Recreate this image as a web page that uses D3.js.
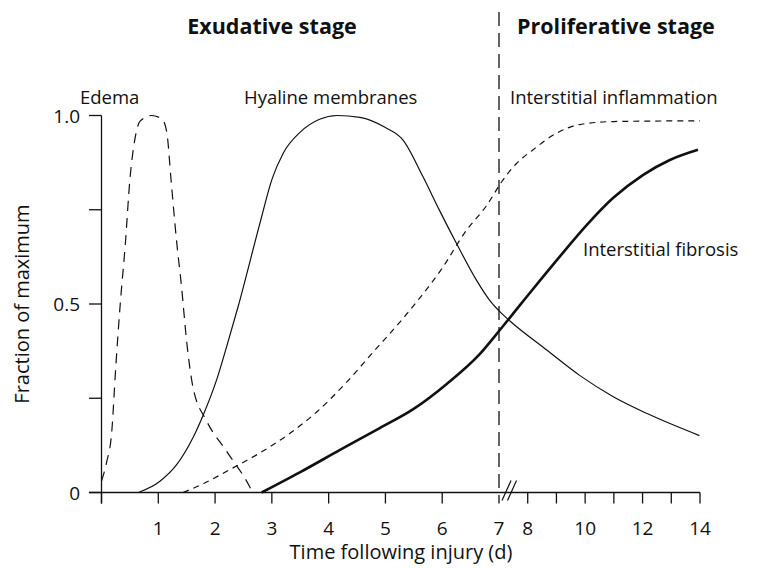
<!DOCTYPE html>
<html>
<head>
<meta charset="utf-8">
<script src="https://cdn.jsdelivr.net/npm/d3@7"></script>
<style>
  body { margin: 0; background: #fff; }
  svg { display: block; }
  text { font-family: 'Open Sans', sans-serif; fill: #111; }
</style>
</head>
<body>
<div id="chart"></div>
<script>
// #region Data (day, fraction of maximum)
const edemaDays = [0, 0.09, 0.18, 0.25, 0.33, 0.42, 0.5, 0.58, 0.68, 0.88, 1.07, 1.15, 1.23, 1.32, 1.41, 1.5, 1.61, 1.85, 2.2, 2.61, 2.66];
const edemaVals = [0.03, 0.08, 0.16, 0.33, 0.5, 0.66, 0.83, 0.93, 0.985, 1.0, 0.99, 0.955, 0.82, 0.67, 0.545, 0.4, 0.28, 0.19, 0.11, 0.015, 0.0];

const hyalineDays = [0.65, 1.03, 1.32, 1.61, 1.79, 2.03, 2.2, 2.4, 2.8, 3.0, 3.2, 3.5, 3.84, 4.15, 4.55, 5.0, 5.31, 5.66, 5.95, 6.25, 6.6, 6.83, 7.09, 7.38, 8.66, 9.82, 10.98, 12.14, 13.98];
const hyalineVals = [0.0, 0.03, 0.073, 0.145, 0.205, 0.3, 0.385, 0.49, 0.72, 0.83, 0.9, 0.956, 0.99, 1.0, 0.995, 0.968, 0.935, 0.838, 0.749, 0.661, 0.564, 0.511, 0.475, 0.455, 0.378, 0.31, 0.254, 0.21, 0.151];

const inflamDays = [1.44, 1.8, 2.3, 2.8, 3.3, 3.8, 4.3, 4.8, 5.3, 5.6, 6.0, 6.4, 6.8, 7.1, 7.6, 8.2, 9.0, 9.8, 11.0, 14.0];
const inflamVals = [0.0, 0.024, 0.064, 0.106, 0.155, 0.215, 0.29, 0.375, 0.46, 0.515, 0.595, 0.69, 0.765, 0.825, 0.872, 0.91, 0.953, 0.976, 0.984, 0.986];

const fibrosisDays = [2.82, 3.5, 4.2, 4.9, 5.49, 6.08, 6.66, 7.03, 7.73, 8.53, 9.02, 10.06, 10.97, 12.01, 12.95, 13.93];
const fibrosisVals = [0.0, 0.054, 0.113, 0.171, 0.221, 0.288, 0.367, 0.431, 0.497, 0.572, 0.617, 0.71, 0.781, 0.842, 0.882, 0.909];

const xTickDays = [0, 1, 2, 3, 4, 5, 6, 8, 9, 10, 11, 12, 13, 14];
const xLabelDays = [1, 2, 3, 4, 5, 6, 7, 8, 10, 12, 14];
const yTickVals = [0, 0.25, 0.5, 0.75, 1];
const yLabels = [[0, '0'], [0.5, '0.5'], [1, '1.0']];
const stageDay = 7;
// #endregion

const width = 759, height = 568;
const svg = d3.select('#chart').append('svg').attr('width', width).attr('height', height);

// piecewise x scale: days 0-7 wide, 7-14 compressed
const x = d3.scaleLinear().domain([0, 7, 14]).range([101.5, 499, 700]);
const y = d3.scaleLinear().domain([0, 1]).range([492.5, 115.5]);

const toPoints = (days, vals) => days.map((d, i) => [d, vals[i]]);
const line = d3.line().x(d => x(d[0])).y(d => y(d[1])).curve(d3.curveMonotoneX);

// #region Axes
const axes = svg.append('g').attr('stroke', '#111').attr('stroke-width', 1.3);
axes.append('line').attr('x1', 89).attr('x2', x(14)).attr('y1', y(0)).attr('y2', y(0));
axes.append('line').attr('x1', x(0)).attr('x2', x(0)).attr('y1', y(1)).attr('y2', y(0) + 11);
axes.selectAll('.yt').data(yTickVals).enter().append('line')
  .attr('x1', 89).attr('x2', x(0)).attr('y1', d => y(d)).attr('y2', d => y(d));
axes.selectAll('.xt').data(xTickDays).enter().append('line')
  .attr('x1', d => x(d)).attr('x2', d => x(d)).attr('y1', y(0)).attr('y2', y(0) + 11);

// break marks near day 7
const bx = x(stageDay) + 3;
[0, 5.5].forEach(off => {
  axes.append('line')
    .attr('x1', bx + off).attr('y1', y(0) + 8)
    .attr('x2', bx + off + 9).attr('y2', y(0) - 12)
    .attr('stroke-width', 1.2);
});

svg.selectAll('.xl').data(xLabelDays).enter().append('text')
  .attr('x', d => x(d)).attr('y', y(0) + 42)
  .attr('text-anchor', 'middle').style('font-size', '19px')
  .text(d => d);

svg.selectAll('.yl').data(yLabels).enter().append('text')
  .attr('x', 80).attr('y', d => y(d[0]) + 7)
  .attr('text-anchor', 'end').style('font-size', '19px')
  .text(d => d[1]);

svg.append('text')
  .attr('x', 401).attr('y', 559)
  .attr('text-anchor', 'middle').style('font-size', '20px')
  .text('Time following injury (d)');

svg.append('text')
  .attr('transform', `translate(29, ${y(0.5)}) rotate(-90)`)
  .attr('text-anchor', 'middle').style('font-size', '20px')
  .text('Fraction of maximum');
// #endregion

// #region Stage divider
svg.append('line')
  .attr('x1', x(stageDay)).attr('x2', x(stageDay))
  .attr('y1', 12).attr('y2', y(0) + 11)
  .attr('stroke', '#111').attr('stroke-width', 1.3)
  .attr('stroke-dasharray', '14,7');

svg.append('text').attr('x', 272).attr('y', 34)
  .attr('text-anchor', 'middle').style('font-size', '21.5px').style('font-weight', 'bold')
  .text('Exudative stage');
svg.append('text').attr('x', 517).attr('y', 34)
  .style('font-size', '21.5px').style('font-weight', 'bold')
  .text('Proliferative stage');
// #endregion

// #region Curves
const series = [
  { pts: toPoints(edemaDays, edemaVals), w: 1.2, dash: '10,7' },
  { pts: toPoints(hyalineDays, hyalineVals), w: 1.2, dash: null },
  { pts: toPoints(inflamDays, inflamVals), w: 1.2, dash: '6,5' },
  { pts: toPoints(fibrosisDays, fibrosisVals), w: 2.6, dash: null },
];
svg.selectAll('.curve').data(series).enter().append('path')
  .attr('d', d => line(d.pts))
  .attr('fill', 'none').attr('stroke', '#111')
  .attr('stroke-width', d => d.w)
  .attr('stroke-dasharray', d => d.dash);
// #endregion

// #region Curve labels
const labels = [
  { t: 'Edema', x: 80, y: 104 },
  { t: 'Hyaline membranes', x: 244, y: 104 },
  { t: 'Interstitial inflammation', x: 510, y: 104 },
  { t: 'Interstitial fibrosis', x: 583, y: 256 },
];
svg.selectAll('.lab').data(labels).enter().append('text')
  .attr('x', d => d.x).attr('y', d => d.y)
  .style('font-size', '18.5px')
  .text(d => d.t);
// #endregion
</script>
</body>
</html>
